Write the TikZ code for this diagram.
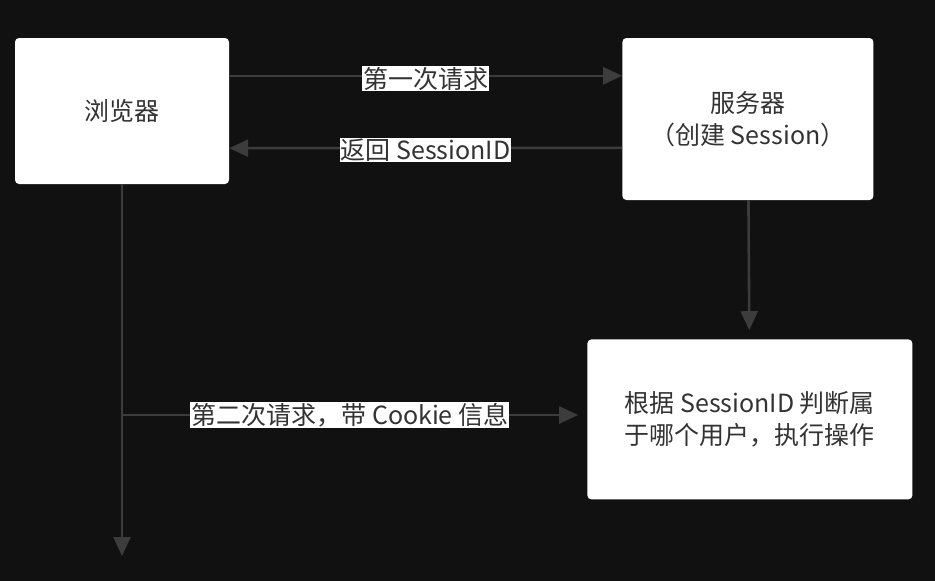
\documentclass[tikz,border=0pt]{standalone}
\usepackage{fontspec}
\setmainfont{Noto Sans CJK SC}
\usetikzlibrary{positioning,arrows.meta}
\definecolor{bgdark}{HTML}{111111}
\definecolor{linegray}{HTML}{3C3C3C}
\definecolor{txtgray}{HTML}{333333}

\begin{document}
\begin{tikzpicture}[x=1pt,y=-1pt,
    box/.style={draw=none, fill=white, rounded corners=4pt, align=center,
                text=txtgray, font=\fontsize{25}{32}\selectfont},
    flow/.style={draw=linegray, line width=2.6pt, -{Triangle[length=19pt,width=17pt]}},
    lbl/.style={fill=white, text=txtgray, inner sep=1pt, font=\fontsize{25}{28}\selectfont}]
            % Background
            \fill[bgdark] (0,0) rectangle (935,581);
            \useasboundingbox (0,0) rectangle (935,581);

            % Nodes
            \node[box, minimum width=214pt, minimum height=146pt] (browser) at (122,111) {浏览器};
            \node[box, minimum width=251pt, minimum height=162pt,
                  right=393pt of browser.north east, anchor=north west] (server) {服务器\\（创建 Session）};
            \node[box, minimum width=325pt, minimum height=160pt, below=139pt of server,
                  xshift=2pt] (judge) {根据 SessionID 判断属\\于哪个用户，执行操作};
            \coordinate (fork) at (122,415);
            \coordinate (tail) at (122,556);

            % Edges
            \draw[flow] ([yshift=-38pt]browser.north east) -- node[lbl, yshift=-3pt] {第一次请求}
                ([yshift=-38pt]server.north west);
            \draw[flow] ([yshift=-110pt]server.north west) -- node[lbl, yshift=-2pt] {返回 SessionID}
                ([yshift=36pt]browser.south east);
            \draw[flow, shorten >=9pt] (server) -- (judge);
            \draw[flow] (browser) -- (tail);
            \draw[flow, shorten >=9pt] (fork) -- node[lbl, pos=0.49] {第二次请求，带 Cookie 信息}
                (fork -| judge.west);

        \end{tikzpicture}
\end{document}
